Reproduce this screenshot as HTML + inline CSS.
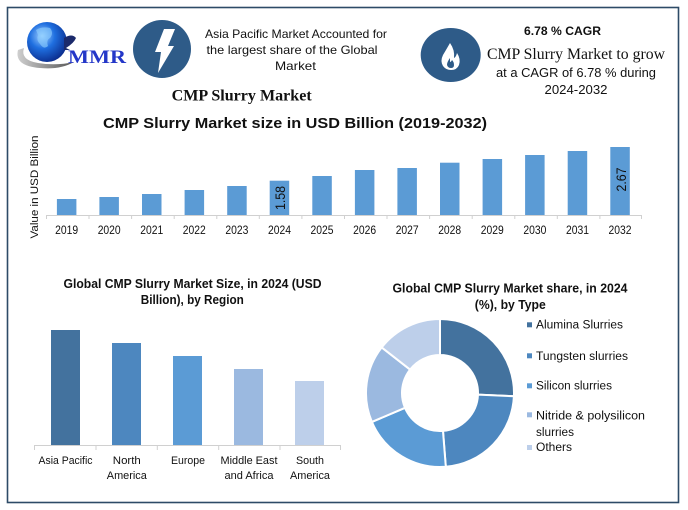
<!DOCTYPE html>
<html><head><meta charset="utf-8">
<style>
html,body{margin:0;padding:0;background:#fff;}
svg{display:block;}
text{font-family:"Liberation Sans",sans-serif;}
.serif{font-family:"Liberation Serif",serif;}
</style></head>
<body>
<svg width="688" height="510" viewBox="0 0 688 510" xmlns="http://www.w3.org/2000/svg">
<defs>
<radialGradient id="globe" cx="0.38" cy="0.35" r="0.7">
<stop offset="0" stop-color="#9fd0ff"/>
<stop offset="0.45" stop-color="#1f6fe0"/>
<stop offset="1" stop-color="#0a2a8a"/>
</radialGradient>
<linearGradient id="swoosh" x1="0" y1="0" x2="1" y2="0">
<stop offset="0" stop-color="#cfcfcf"/>
<stop offset="1" stop-color="#555"/>
</linearGradient>
</defs>
<rect x="0" y="0" width="688" height="510" fill="#fff"/>
<rect x="7.5" y="7.5" width="671" height="495" fill="none" stroke="#2d4b67" stroke-width="1.6"/>

<!-- Logo -->
<path d="M18,50 Q14,66 40,68 Q60,70 74,62 Q56,66 38,63 Q20,60 24,48 Z" fill="url(#swoosh)"/>
<circle cx="47" cy="42" r="20" fill="url(#globe)"/>
<path d="M36,30 Q42,26 50,28 Q54,33 50,38 Q46,40 48,46 Q44,50 40,44 Q36,40 38,35 Z" fill="#8fd0ff" opacity="0.6"/>
<path d="M64,38 Q72,33 76,38 Q74,43 66,48 L70,50 L64,50 Z" fill="#1b2a6b"/>
<text x="68" y="63" class="serif" font-size="19" font-weight="bold" fill="#2437c8" textLength="58" lengthAdjust="spacingAndGlyphs">MMR</text>

<!-- Lightning circle -->
<circle cx="162" cy="49" r="29" fill="#2e5b88"/>
<polygon points="164,29 175,29 168,46 174,46 158,73 161,52 155,52" fill="#fff"/>

<text x="296" y="38" font-size="12" fill="#111" text-anchor="middle" textLength="182" lengthAdjust="spacingAndGlyphs">Asia Pacific Market Accounted for</text>
<text x="292" y="54" font-size="12" fill="#111" text-anchor="middle" textLength="171" lengthAdjust="spacingAndGlyphs">the largest share of the Global</text>
<text x="295.5" y="70" font-size="12" fill="#111" text-anchor="middle" textLength="41" lengthAdjust="spacingAndGlyphs">Market</text>
<text x="241.7" y="100.5" class="serif" font-size="16" font-weight="bold" fill="#111" text-anchor="middle" textLength="140" lengthAdjust="spacingAndGlyphs">CMP Slurry Market</text>

<!-- Flame -->
<ellipse cx="450.7" cy="55" rx="30" ry="27" fill="#2e5b88"/>
<path d="M450,43 Q446,50 443,55 Q440,61 443,66 Q446,70 451,70 Q457,70 459,65 Q461,59 457,53 Q456,57 454,58 Q455,50 450,43 Z" fill="#fff"/>
<path d="M450,58 Q447,62 447,65 Q448,68 451,68 Q454,68 454,65 Q454,62 452,60 Q451,62 450,62 Z" fill="#2e5b88"/>

<text x="562.5" y="35" font-size="12" font-weight="bold" fill="#111" text-anchor="middle" textLength="77" lengthAdjust="spacingAndGlyphs">6.78 % CAGR</text>
<text x="576" y="59" class="serif" font-size="15.5" fill="#111" text-anchor="middle" textLength="178" lengthAdjust="spacingAndGlyphs">CMP Slurry Market to grow</text>
<text x="576" y="77" font-size="12.5" fill="#111" text-anchor="middle" textLength="160" lengthAdjust="spacingAndGlyphs">at a CAGR of 6.78 % during</text>
<text x="576" y="94" font-size="12.5" fill="#111" text-anchor="middle" textLength="63" lengthAdjust="spacingAndGlyphs">2024-2032</text>

<!-- Main chart -->
<text x="295" y="128" font-size="15" font-weight="bold" fill="#111" text-anchor="middle" textLength="384" lengthAdjust="spacingAndGlyphs">CMP Slurry Market size in USD Billion (2019-2032)</text>
<text transform="translate(38,187) rotate(-90)" font-size="11" fill="#111" text-anchor="middle" textLength="103" lengthAdjust="spacingAndGlyphs">Value in USD Billion</text>

<g fill="#5b9bd5">
<rect x="56.9" y="199" width="19.5" height="16"/>
<rect x="99.4" y="197" width="19.5" height="18"/>
<rect x="142" y="194" width="19.5" height="21"/>
<rect x="184.6" y="190" width="19.5" height="25"/>
<rect x="227.2" y="186" width="19.5" height="29"/>
<rect x="269.7" y="180.7" width="19.5" height="34.3"/>
<rect x="312.3" y="176" width="19.5" height="39"/>
<rect x="354.9" y="170" width="19.5" height="45"/>
<rect x="397.4" y="168" width="19.5" height="47"/>
<rect x="440" y="162.7" width="19.5" height="52.3"/>
<rect x="482.6" y="159" width="19.5" height="56"/>
<rect x="525.1" y="155" width="19.5" height="60"/>
<rect x="567.7" y="151" width="19.5" height="64"/>
<rect x="610.3" y="147" width="19.5" height="68"/>
</g>
<g stroke="#d0d0d0" stroke-width="1">
<line x1="46" y1="215.5" x2="642" y2="215.5"/>
<line x1="46.5" y1="215" x2="46.5" y2="219"/>
<line x1="89" y1="215" x2="89" y2="219"/>
<line x1="131.6" y1="215" x2="131.6" y2="219"/>
<line x1="174.2" y1="215" x2="174.2" y2="219"/>
<line x1="216.8" y1="215" x2="216.8" y2="219"/>
<line x1="259.3" y1="215" x2="259.3" y2="219"/>
<line x1="301.9" y1="215" x2="301.9" y2="219"/>
<line x1="344.5" y1="215" x2="344.5" y2="219"/>
<line x1="387" y1="215" x2="387" y2="219"/>
<line x1="429.6" y1="215" x2="429.6" y2="219"/>
<line x1="472.2" y1="215" x2="472.2" y2="219"/>
<line x1="514.8" y1="215" x2="514.8" y2="219"/>
<line x1="557.3" y1="215" x2="557.3" y2="219"/>
<line x1="599.9" y1="215" x2="599.9" y2="219"/>
<line x1="641.5" y1="215" x2="641.5" y2="219"/>
</g>
<g font-size="11.5" fill="#111" text-anchor="middle">
<text x="66.6" y="234" textLength="23" lengthAdjust="spacingAndGlyphs">2019</text>
<text x="109.2" y="234" textLength="23" lengthAdjust="spacingAndGlyphs">2020</text>
<text x="151.8" y="234" textLength="23" lengthAdjust="spacingAndGlyphs">2021</text>
<text x="194.3" y="234" textLength="23" lengthAdjust="spacingAndGlyphs">2022</text>
<text x="236.9" y="234" textLength="23" lengthAdjust="spacingAndGlyphs">2023</text>
<text x="279.5" y="234" textLength="23" lengthAdjust="spacingAndGlyphs">2024</text>
<text x="322" y="234" textLength="23" lengthAdjust="spacingAndGlyphs">2025</text>
<text x="364.6" y="234" textLength="23" lengthAdjust="spacingAndGlyphs">2026</text>
<text x="407.2" y="234" textLength="23" lengthAdjust="spacingAndGlyphs">2027</text>
<text x="449.7" y="234" textLength="23" lengthAdjust="spacingAndGlyphs">2028</text>
<text x="492.3" y="234" textLength="23" lengthAdjust="spacingAndGlyphs">2029</text>
<text x="534.9" y="234" textLength="23" lengthAdjust="spacingAndGlyphs">2030</text>
<text x="577.5" y="234" textLength="23" lengthAdjust="spacingAndGlyphs">2031</text>
<text x="620" y="234" textLength="23" lengthAdjust="spacingAndGlyphs">2032</text>
</g>
<text transform="translate(285,198) rotate(-90)" font-size="14" fill="#111" text-anchor="middle" textLength="24" lengthAdjust="spacingAndGlyphs">1.58</text>
<text transform="translate(626,179.5) rotate(-90)" font-size="14" fill="#111" text-anchor="middle" textLength="24" lengthAdjust="spacingAndGlyphs">2.67</text>

<!-- Region chart -->
<text x="192.5" y="288" font-size="12.5" font-weight="bold" fill="#111" text-anchor="middle" textLength="258" lengthAdjust="spacingAndGlyphs">Global CMP Slurry Market Size, in 2024 (USD</text>
<text x="192.3" y="304" font-size="12.5" font-weight="bold" fill="#111" text-anchor="middle" textLength="103" lengthAdjust="spacingAndGlyphs">Billion), by Region</text>
<rect x="51" y="330" width="29" height="115" fill="#43729e"/>
<rect x="112" y="343" width="29" height="102" fill="#4d87bf"/>
<rect x="173" y="356" width="29" height="89" fill="#5b9bd5"/>
<rect x="234" y="369" width="29" height="76" fill="#9bb9e0"/>
<rect x="295" y="381" width="29" height="64" fill="#bdcfea"/>
<g stroke="#d0d0d0" stroke-width="1">
<line x1="34" y1="445.5" x2="341" y2="445.5"/>
<line x1="34.5" y1="445" x2="34.5" y2="450"/>
<line x1="96" y1="445" x2="96" y2="450"/>
<line x1="157.3" y1="445" x2="157.3" y2="450"/>
<line x1="218.7" y1="445" x2="218.7" y2="450"/>
<line x1="280" y1="445" x2="280" y2="450"/>
<line x1="340.5" y1="445" x2="340.5" y2="450"/>
</g>
<g font-size="11" fill="#111" text-anchor="middle">
<text x="65.5" y="464" textLength="54" lengthAdjust="spacingAndGlyphs">Asia Pacific</text>
<text x="126.8" y="464" textLength="28" lengthAdjust="spacingAndGlyphs">North</text>
<text x="126.8" y="479" textLength="40" lengthAdjust="spacingAndGlyphs">America</text>
<text x="188" y="464" textLength="34" lengthAdjust="spacingAndGlyphs">Europe</text>
<text x="249" y="464" textLength="57" lengthAdjust="spacingAndGlyphs">Middle East</text>
<text x="249" y="479" textLength="49" lengthAdjust="spacingAndGlyphs">and Africa</text>
<text x="310" y="464" textLength="28" lengthAdjust="spacingAndGlyphs">South</text>
<text x="310" y="479" textLength="40" lengthAdjust="spacingAndGlyphs">America</text>
</g>

<!-- Donut -->
<text x="510" y="292.7" font-size="12.5" font-weight="bold" fill="#111" text-anchor="middle" textLength="235" lengthAdjust="spacingAndGlyphs">Global CMP Slurry Market share, in 2024</text>
<text x="510.3" y="309" font-size="12.5" font-weight="bold" fill="#111" text-anchor="middle" textLength="71" lengthAdjust="spacingAndGlyphs">(%), by Type</text>
<g stroke="#fff" stroke-width="2">
<path d="M440,319 A74,74 0 0 1 513.93,396.23 L477.96,394.66 A38,38 0 0 0 440,355 Z" fill="#43729e"/>
<path d="M513.93,396.23 A74,74 0 0 1 445.81,466.77 L442.98,430.88 A38,38 0 0 0 477.96,394.66 Z" fill="#4d87bf"/>
<path d="M445.81,466.77 A74,74 0 0 1 371.88,421.91 L405.02,407.85 A38,38 0 0 0 442.98,430.88 Z" fill="#5b9bd5"/>
<path d="M371.88,421.91 A74,74 0 0 1 381.69,347.44 L410.06,369.60 A38,38 0 0 0 405.02,407.85 Z" fill="#9bb9e0"/>
<path d="M381.69,347.44 A74,74 0 0 1 440,319 L440,355 A38,38 0 0 0 410.06,369.60 Z" fill="#bdcfea"/>
</g>
<rect x="527" y="322.3" width="5" height="5" fill="#43729e"/>
<rect x="527" y="353.3" width="5" height="5" fill="#4d87bf"/>
<rect x="527" y="383.3" width="5" height="5" fill="#5b9bd5"/>
<rect x="527" y="412.3" width="5" height="5" fill="#9bb9e0"/>
<rect x="527" y="445" width="5" height="5" fill="#bdcfea"/>
<g font-size="11.5" fill="#111">
<text x="536" y="328.5" textLength="87" lengthAdjust="spacingAndGlyphs">Alumina Slurries</text>
<text x="536" y="360" textLength="92" lengthAdjust="spacingAndGlyphs">Tungsten slurries</text>
<text x="536" y="389.5" textLength="76" lengthAdjust="spacingAndGlyphs">Silicon slurries</text>
<text x="536" y="419.5" textLength="109" lengthAdjust="spacingAndGlyphs">Nitride &amp; polysilicon</text>
<text x="536" y="436" textLength="38" lengthAdjust="spacingAndGlyphs">slurries</text>
<text x="536" y="451" textLength="36" lengthAdjust="spacingAndGlyphs">Others</text>
</g>
</svg>
</body></html>
